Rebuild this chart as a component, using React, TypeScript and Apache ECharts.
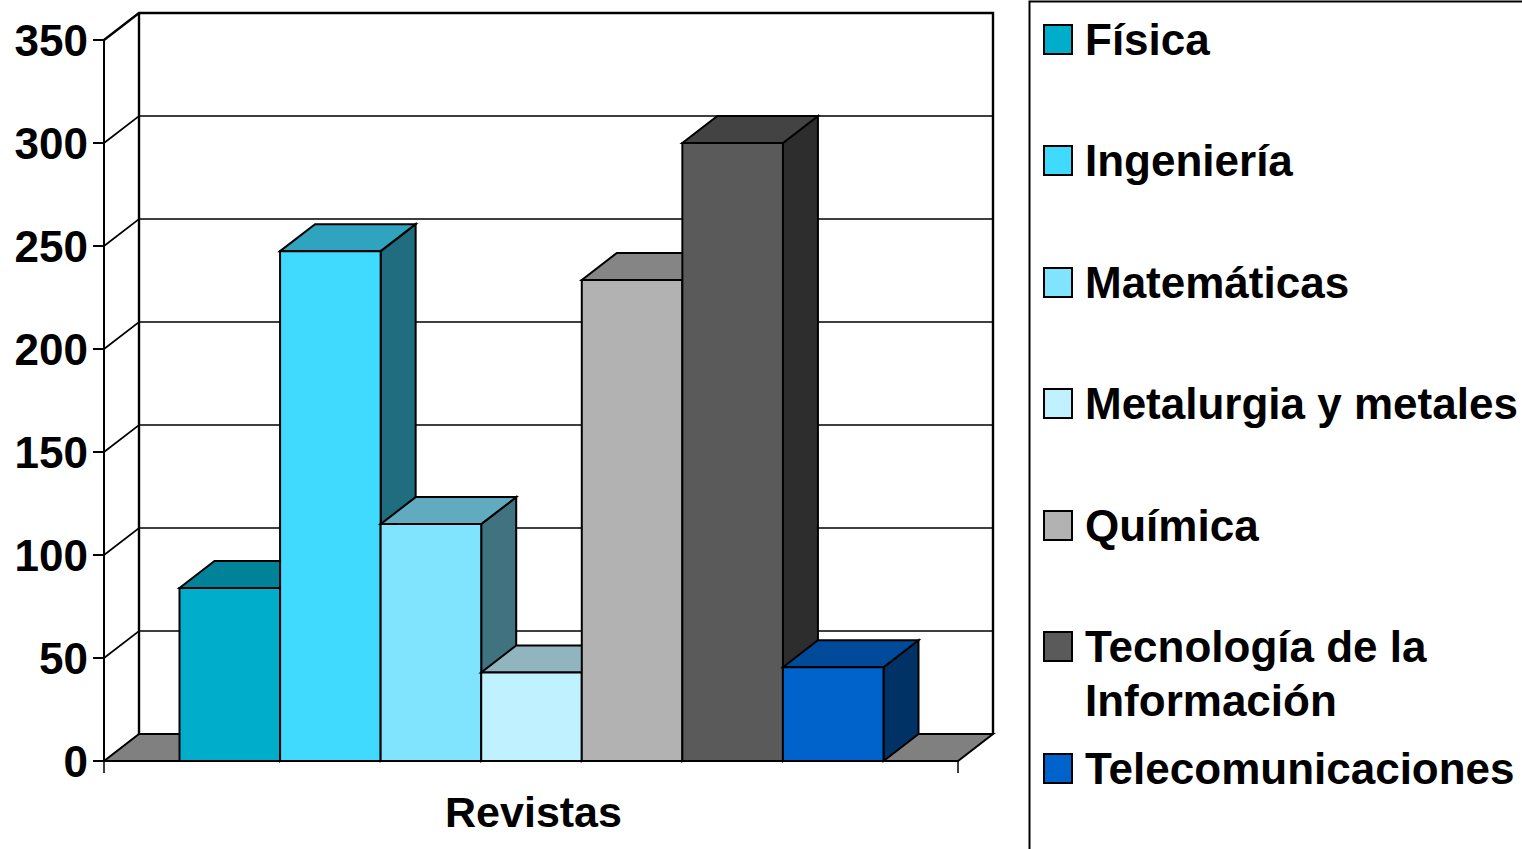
import React, { useEffect, useRef } from "react";
import * as echarts from "echarts";

const categories = ["Revistas"];
const seriesNames = ["Física", "Ingeniería", "Matemáticas", "Metalurgia y metales", "Química", "Tecnología de la\nInformación", "Telecomunicaciones"];
const seriesValues = [84, 247.5, 115, 43, 233.5, 300, 45.5];
const frontColors = ["#00AECC", "#40DAFF", "#80E4FF", "#C0F1FF", "#B2B2B2", "#5A5A5A", "#0063CC"];
const topColors = ["#008299", "#30A3BF", "#60ABBF", "#90B5BF", "#858585", "#434343", "#004A99"];
const sideColors = ["#005766", "#206D80", "#407280", "#607980", "#595959", "#2D2D2D", "#003266"];
const yTicks = [0, 50, 100, 150, 200, 250, 300, 350];
const legendRows = [39, 160, 282, 403, 525, 646, 768];

const FONT = "'Liberation Sans', Arial, sans-serif";
const DX = 35;
const DY = -27;
const GAP_FRAC = 75 / 854;
const LINE = "#000";

function wallItem(params: any, api: any) {
  const [cx, y0] = api.coord([0, 0]);
  const [, yTop] = api.coord([0, yTicks[yTicks.length - 1]]);
  const w = api.size([1, 0])[0];
  const x0 = cx - w / 2;
  const x1 = cx + w / 2;
  const children: any[] = [
    {
      type: "polygon",
      shape: { points: [[x0, y0], [x0 + DX, y0 + DY], [x1 + DX, y0 + DY], [x1, y0]] },
      style: { fill: "#808080", stroke: LINE, lineWidth: 2 },
    },
    {
      type: "polyline",
      shape: { points: [[x0 + DX, y0 + DY], [x0 + DX, yTop + DY]] },
      style: { fill: "none", stroke: LINE, lineWidth: 2.4 },
    },
    {
      type: "polyline",
      shape: { points: [[x1 + DX, y0 + DY], [x1 + DX, yTop + DY], [x0 + DX, yTop + DY], [x0, yTop]] },
      style: { fill: "none", stroke: LINE, lineWidth: 2.4 },
    },
  ];
  yTicks.slice(1, -1).forEach((t) => {
    const y = api.coord([0, t])[1];
    children.push({
      type: "polyline",
      shape: { points: [[x0, y], [x0 + DX, y + DY], [x1 + DX, y + DY]] },
      style: { fill: "none", stroke: LINE, lineWidth: 1.7 },
    });
  });
  return { type: "group", children };
}

function barRenderer(index: number) {
  return (params: any, api: any) => {
    const [cx, yV] = api.coord([0, api.value(1)]);
    const [, y0] = api.coord([0, 0]);
    const w = api.size([1, 0])[0];
    const gap = w * GAP_FRAC;
    const barW = (w - gap * 2) / seriesNames.length;
    const xL = cx - w / 2 + gap + index * barW + 0.5;
    const xR = xL + barW;
    const stroke = { stroke: LINE, lineWidth: 2, lineJoin: "miter" };
    return {
      type: "group",
      children: [
        {
          type: "polygon",
          shape: { points: [[xR, yV], [xR + DX, yV + DY], [xR + DX, y0 + DY], [xR, y0]] },
          style: { fill: sideColors[index], ...stroke },
        },
        {
          type: "polygon",
          shape: { points: [[xL, yV], [xL + DX, yV + DY], [xR + DX, yV + DY], [xR, yV]] },
          style: { fill: topColors[index], ...stroke },
        },
        {
          type: "rect",
          shape: { x: xL, y: yV, width: barW, height: y0 - yV },
          style: { fill: frontColors[index], ...stroke },
        },
      ],
    };
  };
}

const legendGraphics: any[] = [
  {
    type: "polyline",
    shape: { points: [[1029.5, 849], [1029.5, 1.5], [1522, 1.5]] },
    style: { fill: "none", stroke: LINE, lineWidth: 2 },
  },
];
seriesNames.forEach((name, i) => {
  const twoLines = name.includes("\n");
  legendGraphics.push({
    type: "rect",
    shape: { x: 1044, y: legendRows[i] - 14, width: 28, height: 29 },
    style: { fill: frontColors[i], stroke: LINE, lineWidth: 2 },
  });
  legendGraphics.push({
    type: "text",
    x: 1085,
    y: twoLines ? legendRows[i] - 27 : legendRows[i],
    style: {
      text: name,
      fill: "#000",
      font: `bold 44px ${FONT}`,
      lineHeight: 54,
      verticalAlign: twoLines ? "top" : "middle",
      align: "left",
    },
  });
});

export default function App() {
  const ref = useRef<HTMLDivElement>(null);
  useEffect(() => {
    const chart = echarts.init(ref.current!, undefined, { renderer: "svg" });
    chart.setOption({
      animation: false,
      backgroundColor: "#fff",
      grid: { left: 104, top: 40, width: 854, height: 721, containLabel: false },
      xAxis: {
        type: "category",
        data: categories,
        boundaryGap: true,
        axisLine: { lineStyle: { color: LINE, width: 2 } },
        axisTick: { show: true, alignWithLabel: false, interval: 0, length: 12, lineStyle: { color: LINE, width: 1.5 } },
        axisLabel: { color: "#000", fontFamily: FONT, fontWeight: "bold", fontSize: 43, margin: 29, padding: [0, 0, 0, 5] },
      },
      yAxis: {
        type: "value",
        min: 0,
        max: 350,
        interval: 50,
        splitLine: { show: false },
        axisLine: { show: true, lineStyle: { color: LINE, width: 2 } },
        axisTick: { show: true, length: 11, lineStyle: { color: LINE, width: 2 } },
        axisLabel: { color: "#000", fontFamily: FONT, fontWeight: "bold", fontSize: 44, margin: 16, padding: [0, 0, 5, 0] },
      },
      graphic: legendGraphics,
      series: [
        {
          type: "custom",
          name: "walls",
          silent: true,
          renderItem: wallItem,
          data: [[0, 0]],
          encode: { x: 0, y: 1 },
          z: 1,
        },
        ...seriesNames.map((name, i) => ({
          type: "custom",
          name,
          renderItem: barRenderer(i),
          data: [[0, seriesValues[i]]],
          encode: { x: 0, y: 1 },
          z: 2 + i,
        })),
      ],
    });
    return () => chart.dispose();
  }, []);
  return <div ref={ref} style={{ position: "absolute", left: 0, top: 0, width: 1522, height: 849 }} />;
}
